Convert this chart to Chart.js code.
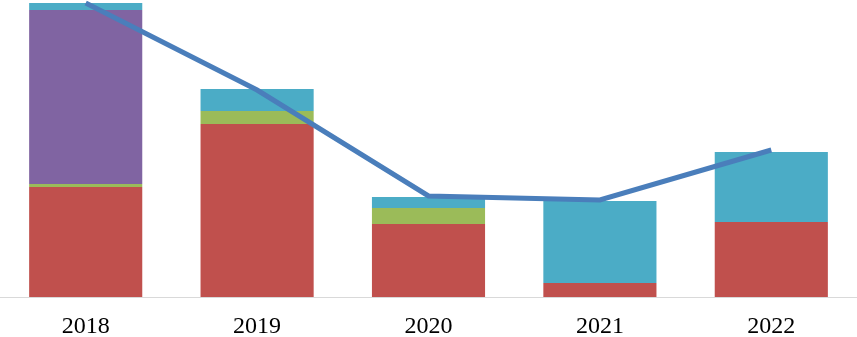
<!DOCTYPE html>
<html>
<head>
<meta charset="utf-8">
<script src="https://cdn.jsdelivr.net/npm/chart.js@4/dist/chart.umd.min.js"></script>
<style>
  html, body { margin: 0; padding: 0; background: #fff; }
  #wrap { width: 857px; height: 337px; }
</style>
</head>
<body>
<div id="wrap"><canvas id="grafico"></canvas></div>
<script>
// dados
const anos = ['2018', '2019', '2020', '2021', '2022'];
const serieVermelha = [110, 173, 73, 14, 75];
const serieVerde = [3, 13, 16, 0, 0];
const serieRoxa = [174, 0, 0, 0, 0];
const serieAzulClaro = [7, 22, 11, 82, 70];
const totalLinha = [294, 207, 101, 97, 147];

function desenharGrafico() {
    const ctx = document.getElementById('grafico').getContext('2d');
    window.grafico = new Chart(ctx, {
        type: 'bar',
        data: {
            labels: anos,
            datasets: [
                {
                    type: 'line',
                    label: 'Total',
                    data: totalLinha,
                    borderColor: '#4A7EBB',
                    borderWidth: 5,
                    pointRadius: 0,
                    tension: 0,
                    fill: false
                },
                { label: 'A', data: serieVermelha, backgroundColor: '#C0504D' },
                { label: 'B', data: serieVerde, backgroundColor: '#9BBB59' },
                { label: 'C', data: serieRoxa, backgroundColor: '#8064A2' },
                { label: 'D', data: serieAzulClaro, backgroundColor: '#4BACC6' }
            ]
        },
        options: {
            responsive: true,
            maintainAspectRatio: false,
            animation: false,
            layout: { padding: 0 },
            datasets: {
                bar: { categoryPercentage: 1, barPercentage: 0.66, borderWidth: 0 }
            },
            plugins: {
                legend: { display: false },
                tooltip: { enabled: false }
            },
            scales: {
                x: {
                    stacked: true,
                    grid: { display: false, drawTicks: false },
                    border: { display: true, color: '#D9D9D9', width: 1 },
                    ticks: {
                        color: '#000',
                        padding: 18,
                        font: { family: '"Liberation Serif", "Times New Roman", serif', size: 24, lineHeight: 1 }
                    },
                    afterFit: function(scale) { scale.height = 40; }
                },
                y: {
                    stacked: true,
                    display: false,
                    min: 0,
                    max: 297
                }
            }
        }
    });
}

document.addEventListener('DOMContentLoaded', () => {
    desenharGrafico();
});
</script>
</body>
</html>
